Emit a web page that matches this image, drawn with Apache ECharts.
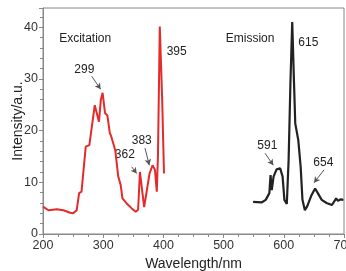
<!DOCTYPE html>
<html>
<head>
<meta charset="utf-8">
<script src="https://cdn.jsdelivr.net/npm/echarts@6/dist/echarts.min.js"></script>
<style>
  html, body { margin: 0; padding: 0; background: #fff; }
  #chart { width: 346px; height: 271px; }
</style>
</head>
<body>
<div id="chart"></div>
<script>
// excitation spectrum (red)
var excitationWl = [200, 209, 223, 234, 245, 250, 256, 260, 264, 271, 277, 286, 289, 293, 296, 299, 303, 307, 311, 313, 320, 325, 329, 332, 339, 347, 354, 358, 361, 364, 368, 371, 377, 382, 386, 389, 391, 394, 398, 401];
var excitationI = [5.3, 4.6, 4.8, 4.6, 4.1, 4.0, 4.6, 7.9, 8.2, 16.9, 17.2, 24.9, 24.7, 21.7, 25.9, 27.3, 23.4, 22.9, 19.5, 19.0, 16.2, 11.1, 9.5, 6.9, 5.9, 5.0, 4.3, 4.7, 12.0, 9.1, 5.2, 5.5, 11.7, 13.3, 12.4, 8.2, 15.3, 40.1, 25.9, 11.7];

// emission spectrum (black)
var emissionWl = [549, 563, 570, 576, 578, 580, 583, 588, 594, 598, 601, 605, 608, 611, 614, 617, 619, 624, 628, 631, 635, 639, 646, 652, 656, 663, 671, 680, 683, 687, 690, 694, 699];
var emissionI = [6.2, 6.1, 6.6, 7.9, 11.4, 8.5, 11.1, 12.5, 12.7, 11.1, 6.6, 5.8, 14.3, 29.1, 41.0, 29.1, 21.4, 18.2, 13.0, 6.6, 4.6, 5.4, 7.5, 8.8, 8.0, 6.6, 6.0, 5.6, 5.8, 6.9, 6.4, 6.7, 6.6];

// text labels placed in data space
var labels = [
    { text: 'Excitation', at: [270, 37.7] },
    { text: '299', at: [268.6, 31.7] },
    { text: '395', at: [422, 35.2] },
    { text: '362', at: [336, 15.3] },
    { text: '383', at: [364, 18.0] },
    { text: 'Emission', at: [544, 37.7] },
    { text: '615', at: [640.7, 37.0] },
    { text: '591', at: [572.6, 17.1] },
    { text: '654', at: [665.6, 13.7] }
];

// arrows: from -> to (data space)
var arrows = [
    [[280.9, 30.5], [295.8, 28.0]],
    [[347.3, 13.0], [355.6, 11.7]],
    [[369.4, 16.6], [376.6, 13.3]],
    [[568.8, 15.6], [582.6, 13.3]],
    [[666.8, 12.4], [650.2, 9.9]]
];

function pairs(xs, ys) {
    return xs.map(function (x, i) { return [x, ys[i]]; });
}

var FONT = '"Liberation Sans", Arial, sans-serif';

var myChart = echarts.init(document.getElementById('chart'), null, { renderer: 'canvas' });

var option = {
    animation: false,
    textStyle: { fontFamily: FONT },
    grid: {
        left: 43,
        right: 2,
        top: 8,
        bottom: 37,
        outerBoundsMode: 'none',
        show: true,
        borderColor: '#888',
        borderWidth: 1
    },
    xAxis: {
        type: 'value',
        min: 200,
        max: 700,
        interval: 100,
        name: 'Wavelength/nm',
        nameLocation: 'middle',
        nameGap: 22,
        nameTextStyle: { fontSize: 14, color: '#222', fontFamily: FONT },
        axisLine: { lineStyle: { color: '#888' } },
        axisTick: { length: 4, lineStyle: { color: '#888' } },
        minorTick: { show: true, splitNumber: 4, length: 3, lineStyle: { color: '#888' } },
        axisLabel: { fontSize: 12.5, color: '#333', margin: 5, alignMaxLabel: 'center', fontFamily: FONT },
        splitLine: { show: false }
    },
    yAxis: {
        type: 'value',
        min: 0,
        max: 43.7,
        interval: 10,
        name: 'Intensity/a.u.',
        nameLocation: 'middle',
        nameGap: 18,
        nameMoveOverlap: false,
        nameTextStyle: { fontSize: 14, color: '#222', fontFamily: FONT },
        axisLine: { show: true, lineStyle: { color: '#888' } },
        axisTick: { show: true, length: 4, lineStyle: { color: '#888' } },
        minorTick: { show: true, splitNumber: 5, length: 3, lineStyle: { color: '#888' } },
        axisLabel: { fontSize: 12.5, color: '#333', margin: 5, showMaxLabel: false, fontFamily: FONT },
        splitLine: { show: false }
    },
    series: [
        {
            name: 'Excitation',
            type: 'line',
            data: pairs(excitationWl, excitationI),
            showSymbol: false,
            lineStyle: { color: '#e32b2b', width: 2 },
            markLine: {
                silent: true,
                symbol: ['none', 'arrow'],
                symbolSize: [5, 6],
                label: { show: false },
                lineStyle: { color: '#555', width: 1, type: 'solid' },
                data: arrows.slice(0, 3).map(function (a) {
                    return [{ coord: a[0] }, { coord: a[1] }];
                })
            }
        },
        {
            name: 'Emission',
            type: 'line',
            data: pairs(emissionWl, emissionI),
            showSymbol: false,
            lineStyle: { color: '#222', width: 2.2 },
            markLine: {
                silent: true,
                symbol: ['none', 'arrow'],
                symbolSize: [5, 6],
                label: { show: false },
                lineStyle: { color: '#555', width: 1, type: 'solid' },
                data: arrows.slice(3).map(function (a) {
                    return [{ coord: a[0] }, { coord: a[1] }];
                })
            }
        }
    ]
};

myChart.setOption(option);

// place the text labels through the chart's own scales
myChart.setOption({
    graphic: labels.map(function (l) {
        var p = myChart.convertToPixel({ gridIndex: 0 }, l.at);
        return {
            type: 'text',
            x: p[0],
            y: p[1],
            style: {
                text: l.text,
                fill: '#222',
                font: '12px ' + FONT,
                textAlign: 'center',
                textVerticalAlign: 'middle'
            }
        };
    })
});
</script>
</body>
</html>
